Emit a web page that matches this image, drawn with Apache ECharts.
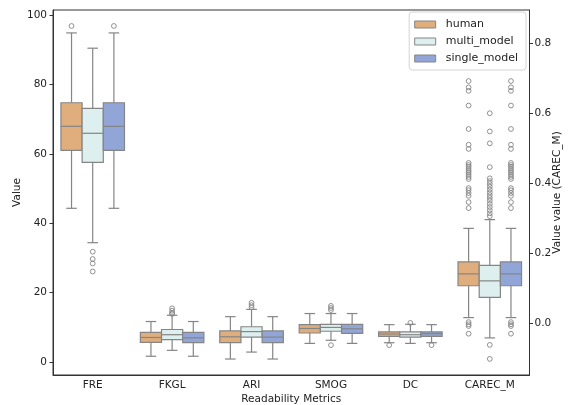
<!DOCTYPE html>
<html>
<head>
<meta charset="utf-8">
<script src="https://cdn.jsdelivr.net/npm/echarts@6/dist/echarts.min.js"></script>
<style>
  html, body { margin: 0; padding: 0; background: #fff; }
  #chart { width: 575px; height: 405px; }
</style>
</head>
<body>
<div id="chart"></div>
<script>
// metrics on the x axis, CAREC_M is read against the right axis
const metrics = ['FRE', 'FKGL', 'ARI', 'SMOG', 'DC', 'CAREC_M'];
const groups = ['human', 'multi_model', 'single_model'];
const leftTicks = [0, 20, 40, 60, 80, 100];
const rightTicks = [0, 0.2, 0.4, 0.6, 0.8];

// [min, Q1, median, Q3, max]
const humanBoxes = [
    [44.3, 61.0, 67.9, 74.7, 94.8],
    [1.7, 5.7, 7.1, 8.6, 11.7],
    [0.9, 5.6, 7.3, 9.0, 13.1],
    [5.4, 8.4, 9.7, 10.8, 14.0],
    [5.6, 7.4, 8.1, 8.7, 10.8],
    [0.015, 0.106, 0.140, 0.174, 0.270]
];
const multiBoxes = [
    [34.4, 57.5, 65.9, 73.1, 90.4],
    [3.4, 6.5, 7.9, 9.4, 13.5],
    [2.9, 7.2, 8.8, 10.2, 15.2],
    [6.3, 8.9, 10.0, 10.9, 14.0],
    [5.4, 7.2, 7.9, 8.7, 10.9],
    [-0.043, 0.073, 0.120, 0.164, 0.295]
];
const singleBoxes = [
    [44.3, 61.0, 67.9, 74.7, 94.8],
    [1.7, 5.6, 7.0, 8.6, 11.7],
    [0.9, 5.6, 7.2, 9.0, 13.1],
    [5.4, 8.3, 9.6, 10.9, 14.0],
    [5.6, 7.4, 8.2, 8.7, 10.8],
    [0.015, 0.106, 0.140, 0.174, 0.270]
];

// outliers: [metric index, value]
const humanOutliers = [
    [0, 96.8], [4, 4.9],
    [5, 0.691], [5, 0.673], [5, 0.663], [5, 0.621], [5, 0.554], [5, 0.509], [5, 0.497],
    [5, 0.457], [5, 0.451], [5, 0.446], [5, 0.440], [5, 0.434], [5, 0.429], [5, 0.423],
    [5, 0.417], [5, 0.411], [5, 0.385], [5, 0.379], [5, 0.371], [5, 0.363], [5, 0.345],
    [5, 0.328], [5, 0.002], [5, -0.004], [5, -0.009], [5, -0.031]
];
const multiOutliers = [
    [0, 31.8], [0, 29.7], [0, 28.4], [0, 26.1],
    [1, 15.5], [1, 14.8], [1, 14.2], [1, 13.9],
    [2, 17.1], [2, 16.4], [2, 15.8],
    [3, 16.2], [3, 15.6], [3, 15.0], [3, 4.9],
    [4, 11.3],
    [5, 0.599], [5, 0.547], [5, 0.513], [5, 0.445], [5, 0.413], [5, 0.405], [5, 0.397],
    [5, 0.389], [5, 0.381], [5, 0.373], [5, 0.365], [5, 0.357], [5, 0.349], [5, 0.340],
    [5, 0.331], [5, 0.322], [5, 0.313], [5, 0.305], [5, -0.063], [5, -0.103]
];
const singleOutliers = [
    [0, 96.8], [4, 4.9],
    [5, 0.691], [5, 0.673], [5, 0.663], [5, 0.621], [5, 0.554], [5, 0.509], [5, 0.497],
    [5, 0.457], [5, 0.451], [5, 0.446], [5, 0.440], [5, 0.434], [5, 0.429], [5, 0.423],
    [5, 0.417], [5, 0.411], [5, 0.385], [5, 0.379], [5, 0.371], [5, 0.363], [5, 0.345],
    [5, 0.328], [5, 0.002], [5, -0.004], [5, -0.009], [5, -0.031]
];

const colors = ['#e0ae7d', '#ddefee', '#91a6d6'];
const edge = '#858585';
const hueWidth = 0.8 / 3;
const font = 'DejaVu Sans';

function boxRender(offset, color) {
    return function (params, api) {
        var band = api.size([1, 0])[0];
        var cat = api.value(0);
        var cx = api.coord([cat, 0])[0] + offset * band;
        var w = hueWidth * band / 2;
        var y = [1, 2, 3, 4, 5].map(function (i) { return api.coord([cat, api.value(i)])[1]; });
        var ls = { stroke: edge, lineWidth: 1.2 };
        return {
            type: 'group',
            children: [
                { type: 'line', shape: { x1: cx, y1: y[0], x2: cx, y2: y[1] }, style: ls },
                { type: 'line', shape: { x1: cx, y1: y[3], x2: cx, y2: y[4] }, style: ls },
                { type: 'line', shape: { x1: cx - w / 2, y1: y[0], x2: cx + w / 2, y2: y[0] }, style: ls },
                { type: 'line', shape: { x1: cx - w / 2, y1: y[4], x2: cx + w / 2, y2: y[4] }, style: ls },
                { type: 'rect', shape: { x: cx - w, y: y[3], width: 2 * w, height: y[1] - y[3] },
                  style: { fill: color, stroke: edge, lineWidth: 1.2 } },
                { type: 'line', shape: { x1: cx - w, y1: y[2], x2: cx + w, y2: y[2] }, style: ls }
            ]
        };
    };
}

function outlierRender(offset) {
    return function (params, api) {
        var band = api.size([1, 0])[0];
        var p = api.coord([api.value(0), api.value(1)]);
        return {
            type: 'circle',
            shape: { cx: p[0] + offset * band, cy: p[1], r: 2.4 },
            style: { fill: 'transparent', stroke: edge, lineWidth: 0.9 }
        };
    };
}

var boxSets = [humanBoxes, multiBoxes, singleBoxes];
var outlierSets = [humanOutliers, multiOutliers, singleOutliers];
var series = [];
groups.forEach(function (name, g) {
    var offset = (g - 1) * hueWidth;
    var left = [], right = [];
    boxSets[g].forEach(function (b, i) {
        (i === 5 ? right : left).push([i].concat(b));
    });
    series.push({ name: name, type: 'custom', yAxisIndex: 0, data: left,
        encode: { x: 0, y: [1, 2, 3, 4, 5] }, renderItem: boxRender(offset, colors[g]),
        itemStyle: { color: colors[g] } });
    series.push({ name: name, type: 'custom', yAxisIndex: 1, data: right,
        encode: { x: 0, y: [1, 2, 3, 4, 5] }, renderItem: boxRender(offset, colors[g]),
        itemStyle: { color: colors[g] } });
    series.push({ name: name, type: 'custom', yAxisIndex: 0,
        data: outlierSets[g].filter(function (o) { return o[0] !== 5; }),
        encode: { x: 0, y: 1 }, renderItem: outlierRender(offset) });
    series.push({ name: name, type: 'custom', yAxisIndex: 1,
        data: outlierSets[g].filter(function (o) { return o[0] === 5; }),
        encode: { x: 0, y: 1 }, renderItem: outlierRender(offset) });
});

var axisText = { color: '#222', fontFamily: font, fontSize: 10.5 };

var myChart = echarts.init(document.getElementById('chart'));
myChart.setOption({
    animation: false,
    textStyle: { fontFamily: font },
    grid: { left: 53, right: 45.5, top: 10, bottom: 30, outerBoundsMode: 'none',
        show: true, borderColor: '#333', borderWidth: 1 },
    legend: {
        orient: 'vertical',
        right: 49,
        top: 12,
        padding: [6, 8, 5, 5],
        itemWidth: 21,
        itemHeight: 7,
        itemGap: 4,
        borderColor: '#d5d5d5',
        borderWidth: 1,
        borderRadius: 3,
        backgroundColor: 'rgba(255,255,255,0.85)',
        textStyle: { color: '#222', fontFamily: font, fontSize: 11, lineHeight: 13, padding: [0, 0, 0, 5] },
        data: groups.map(function (n, g) {
            return { name: n, icon: 'rect', itemStyle: { color: colors[g], borderColor: edge, borderWidth: 1 } };
        })
    },
    xAxis: {
        type: 'category',
        data: metrics,
        name: 'Readability Metrics',
        nameLocation: 'middle',
        nameMoveOverlap: false,
        nameGap: 19,
        nameTextStyle: axisText,
        axisLine: { onZero: false, lineStyle: { color: '#333' } },
        axisTick: { alignWithLabel: true, length: 3.5, lineStyle: { color: '#333' } },
        axisLabel: Object.assign({ margin: 5 }, axisText),
        splitLine: { show: false }
    },
    yAxis: [{
        type: 'value',
        min: -3.7,
        max: 101.4,
        name: 'Value',
        nameLocation: 'middle',
        nameMoveOverlap: false,
        nameGap: 30,
        nameTextStyle: axisText,
        axisLine: { show: true, lineStyle: { color: '#333' } },
        axisTick: { show: true, length: 3.5, customValues: leftTicks, lineStyle: { color: '#333' } },
        axisLabel: Object.assign({ margin: 6, customValues: leftTicks }, axisText),
        splitLine: { show: false }
    }, {
        type: 'value',
        position: 'right',
        min: -0.149,
        max: 0.894,
        name: 'Value value (CAREC_M)',
        nameLocation: 'middle',
        nameMoveOverlap: false,
        nameRotate: 90,
        nameGap: 22.5,
        nameTextStyle: axisText,
        axisLine: { show: true, lineStyle: { color: '#333' } },
        axisTick: { show: true, length: 3.5, customValues: rightTicks, lineStyle: { color: '#333' } },
        axisLabel: Object.assign({ margin: 5, customValues: rightTicks,
            formatter: function (v) { return v.toFixed(1); } }, axisText),
        splitLine: { show: false }
    }],
    series: series
});
</script>
</body>
</html>
